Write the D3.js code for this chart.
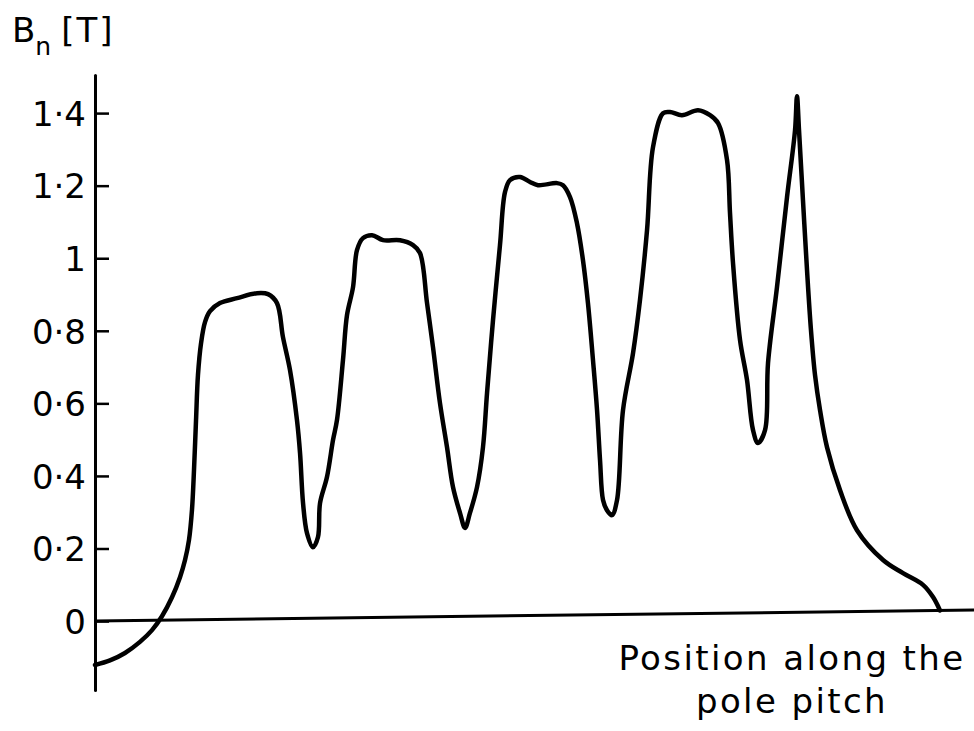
<!DOCTYPE html>
<html>
<head>
<meta charset="utf-8">
<script src="https://cdn.jsdelivr.net/npm/d3@7/dist/d3.min.js"></script>
<style>
  html, body { margin: 0; padding: 0; background: #fff; }
  svg { display: block; }
  text { font-family: "DejaVu Sans", sans-serif; fill: #000; }
</style>
</head>
<body>
<svg id="chart" width="974" height="731"></svg>
<script>
// Normal flux density B_n along the pole pitch (position in % of pitch).
const position = [
  0, 1.70, 3.41, 5.11, 6.48, 7.61, 8.75, 9.66, 10.23, 10.68,
  11.02, 11.25, 11.48, 11.70, 12.05, 12.50, 13.07, 14.20, 16.14, 18.41,
  19.66, 20.68, 21.36, 22.16, 22.95, 23.30, 23.64, 24.09, 24.77, 25.34,
  25.57, 26.36, 27.05, 27.50, 28.18, 28.64, 29.32, 29.77, 30.45, 31.48,
  32.73, 34.66, 36.14, 36.93, 37.73, 38.41, 39.20, 40.00, 40.68, 41.48,
  42.05, 42.61, 43.41, 44.09, 44.55, 45.23, 46.02, 46.59, 47.16, 48.30,
  49.43, 50.34, 52.50, 53.18, 53.98, 54.77, 55.45, 56.02, 56.59, 57.05,
  57.39, 57.73, 58.18, 58.75, 59.32, 60.00, 61.14, 61.93, 62.73, 63.41,
  64.55, 65.34, 66.70, 68.52, 69.89, 70.80, 71.82, 72.16, 72.50, 73.30,
  74.09, 74.77, 75.34, 76.14, 76.48, 77.50, 78.64, 79.55, 79.77, 80.00,
  80.45, 80.91, 81.36, 81.82, 82.39, 83.18, 84.66, 86.59, 89.55, 91.82,
  94.09, 95.23, 96.02
];
const fluxDensity = [
  -0.121, -0.109, -0.089, -0.059, -0.027, 0.011, 0.063, 0.118, 0.165, 0.220,
  0.303, 0.413, 0.550, 0.674, 0.762, 0.820, 0.850, 0.872, 0.885, 0.898,
  0.895, 0.870, 0.776, 0.685, 0.547, 0.456, 0.318, 0.235, 0.196, 0.224,
  0.317, 0.389, 0.491, 0.546, 0.711, 0.835, 0.911, 1.013, 1.046, 1.054,
  1.040, 1.039, 1.025, 1.003, 0.865, 0.743, 0.589, 0.467, 0.357, 0.285,
  0.244, 0.285, 0.356, 0.466, 0.615, 0.816, 1.022, 1.168, 1.201, 1.209,
  1.195, 1.186, 1.191, 1.185, 1.152, 1.080, 0.978, 0.859, 0.702, 0.564,
  0.426, 0.316, 0.288, 0.274, 0.315, 0.563, 0.720, 0.866, 1.058, 1.287,
  1.380, 1.383, 1.374, 1.387, 1.373, 1.351, 1.249, 1.102, 0.965, 0.752,
  0.642, 0.504, 0.468, 0.503, 0.688, 0.897, 1.145, 1.329, 1.422, 1.329,
  1.136, 0.943, 0.777, 0.653, 0.556, 0.454, 0.335, 0.224, 0.141, 0.104,
  0.071, 0.037, 0.000
];
const yTickValues = [0, 0.2, 0.4, 0.6, 0.8, 1, 1.2, 1.4];
const yTickLabels = ["0", "0·2", "0·4", "0·6", "0·8", "1", "1·2", "1·4"];
const yTitle = { symbol: "B", sub: "n", unit: "[T]" };
const xTitleLines = ["Position along the", "pole pitch"];

const svg = d3.select("#chart");

const x = d3.scaleLinear().domain([0, 100]).range([95, 975]);
const y = d3.scaleLinear().domain([-0.19, 1.505]).range([690, 75]);

// vertical axis with inward ticks and labels to the left
const yAxis = d3.axisLeft(y)
  .tickValues(yTickValues)
  .tickFormat((d, i) => yTickLabels[i])
  .tickSizeInner(-14)
  .tickSizeOuter(0)
  .tickPadding(9);

const gy = svg.append("g")
  .attr("transform", `translate(${x(0)},0)`)
  .call(yAxis);
gy.select(".domain").attr("stroke", "#000").attr("stroke-width", 3).attr("stroke-linecap", "round");
gy.selectAll(".tick line").attr("stroke", "#000").attr("stroke-width", 2.5);
gy.selectAll(".tick text")
  .attr("font-size", 34)
  .attr("font-family", "DejaVu Sans, sans-serif")
  .attr("fill", "#000")
  .attr("dy", "0.36em");

// plot body: baseline and curve share a slight skew of the drawing sheet
const plot = svg.append("g")
  .attr("transform", `translate(${x(0)},${y(0)}) skewY(-0.72) translate(${-x(0)},${-y(0)})`);

plot.append("line")
  .attr("x1", x(0)).attr("x2", x(100))
  .attr("y1", y(0)).attr("y2", y(0))
  .attr("stroke", "#000").attr("stroke-width", 3);

const line = d3.line()
  .x(d => x(d[0]))
  .y(d => y(d[1]))
  .curve(d3.curveCatmullRom.alpha(0.5));

plot.append("path")
  .datum(position.map((p, i) => [p, fluxDensity[i]]))
  .attr("d", line)
  .attr("fill", "none")
  .attr("stroke", "#000")
  .attr("stroke-width", 4.5)
  .attr("stroke-linejoin", "round")
  .attr("stroke-linecap", "round");

// y-axis title  B_n [T]
const t = svg.append("text")
  .attr("x", 12).attr("y", 42)
  .attr("font-size", 34);
t.append("tspan").text(yTitle.symbol);
t.append("tspan").attr("dy", 13).attr("font-size", 25).text(yTitle.sub);
t.append("tspan").attr("dy", -13).attr("dx", 10).attr("letter-spacing", 2).text(yTitle.unit);

// x-axis title, two centred lines
svg.append("g")
  .selectAll("text")
  .data(xTitleLines)
  .join("text")
  .attr("x", 792)
  .attr("y", (d, i) => 670 + i * 43)
  .attr("text-anchor", "middle")
  .attr("font-size", 34)
  .attr("letter-spacing", 2.4)
  .text(d => d);
</script>
</body>
</html>
